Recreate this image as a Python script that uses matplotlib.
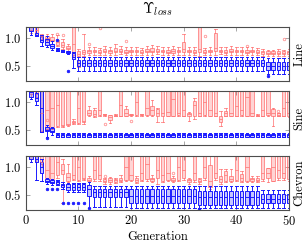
import numpy as np
import matplotlib
matplotlib.use('Agg')
import matplotlib.pyplot as plt

plt.rcParams['font.family'] = 'serif'
plt.rcParams['font.serif'] = ['cmr10']
plt.rcParams['mathtext.fontset'] = 'cm'
plt.rcParams['axes.formatter.use_mathtext'] = True

# generations on the x axis
gens = np.arange(1, 51)
panel_names = ['Line', 'Sine', 'Chevron']

# box stats per generation: [whisker low, q1, median, q3, whisker high]
# values above the axis top (1.3) are clipped boxes
line_red = [
    [1.10, 1.15, 1.20, 1.25, 1.30], [1.05, 1.10, 1.15, 1.20, 1.25], [0.98, 1.02, 1.04, 1.06, 1.08],
    [0.93, 0.97, 1.00, 1.03, 1.07], [0.90, 0.94, 0.97, 1.02, 1.07], [0.85, 0.88, 0.92, 0.97, 1.05],
    [0.80, 0.84, 0.87, 0.92, 0.98], [0.76, 0.80, 0.82, 0.86, 0.90], [0.66, 0.70, 0.90, 1.30, 1.30],
    [0.48, 0.68, 0.72, 0.76, 0.80], [0.68, 0.72, 0.74, 0.78, 1.08], [0.70, 0.73, 0.76, 0.79, 0.83],
    [0.70, 0.74, 0.76, 0.79, 0.84], [0.69, 0.73, 0.75, 0.78, 0.82], [0.70, 0.74, 0.76, 0.80, 0.85],
    [0.70, 0.73, 0.76, 0.79, 0.84], [0.70, 0.74, 0.77, 0.82, 0.90], [0.71, 0.75, 0.77, 0.80, 0.86],
    [0.70, 0.73, 0.75, 0.78, 0.83], [0.70, 0.74, 0.76, 0.79, 0.84], [0.70, 0.74, 0.76, 0.79, 0.84],
    [0.69, 0.73, 0.75, 0.78, 0.82], [0.70, 0.74, 0.77, 0.80, 0.86], [0.70, 0.74, 0.76, 0.82, 0.88],
    [0.71, 0.75, 0.77, 0.80, 0.85], [0.70, 0.74, 0.76, 0.79, 0.84], [0.70, 0.73, 0.75, 0.78, 0.83],
    [0.69, 0.73, 0.76, 0.80, 0.85], [0.70, 0.74, 0.76, 0.79, 0.84], [0.70, 0.75, 0.80, 0.92, 1.08],
    [0.70, 0.74, 0.76, 0.79, 0.84], [0.70, 0.73, 0.75, 0.78, 0.83], [0.68, 0.74, 0.80, 1.30, 1.30],
    [0.70, 0.73, 0.75, 0.78, 0.82], [0.70, 0.74, 0.76, 0.79, 0.84], [0.70, 0.76, 0.82, 1.10, 1.16],
    [0.71, 0.74, 0.76, 0.79, 0.84], [0.70, 0.73, 0.75, 0.78, 0.83], [0.70, 0.74, 0.76, 0.80, 0.86],
    [0.70, 0.74, 0.76, 0.79, 0.84], [0.70, 0.74, 0.76, 0.79, 0.84], [0.70, 0.73, 0.75, 0.78, 0.83],
    [0.70, 0.74, 0.76, 0.79, 0.84], [0.69, 0.73, 0.75, 0.78, 0.82], [0.68, 0.72, 0.74, 0.77, 0.80],
    [0.68, 0.71, 0.73, 0.76, 0.79], [0.68, 0.71, 0.73, 0.76, 0.79], [0.68, 0.71, 0.73, 0.76, 0.80],
    [0.68, 0.71, 0.73, 0.76, 0.79], [0.68, 0.72, 0.74, 0.77, 0.80]]
line_red_out = {6: [1.08], 7: [1.05], 12: [0.90], 14: [1.19], 19: [0.95],
                34: [1.04], 42: [0.86], 49: [0.98]}

line_blue = [
    [1.05, 1.12, 1.20, 1.25, 1.30], [1.03, 1.04, 1.06, 1.10, 1.20], [0.85, 0.92, 0.97, 1.03, 1.05],
    [0.83, 0.88, 0.93, 0.99, 1.03], [0.78, 0.82, 0.85, 0.90, 0.95], [0.76, 0.77, 0.79, 0.80, 0.82],
    [0.74, 0.75, 0.76, 0.78, 0.79], [0.72, 0.73, 0.74, 0.76, 0.77], [0.45, 0.62, 0.66, 0.73, 0.74],
    [0.40, 0.49, 0.55, 0.61, 0.66], [0.40, 0.49, 0.55, 0.61, 0.66], [0.40, 0.49, 0.55, 0.61, 0.66],
    [0.40, 0.49, 0.55, 0.61, 0.66], [0.40, 0.49, 0.55, 0.61, 0.66], [0.40, 0.49, 0.55, 0.61, 0.66],
    [0.40, 0.49, 0.55, 0.61, 0.66], [0.40, 0.49, 0.55, 0.61, 0.66], [0.40, 0.49, 0.55, 0.61, 0.66],
    [0.40, 0.49, 0.55, 0.61, 0.66], [0.40, 0.49, 0.55, 0.61, 0.66], [0.40, 0.49, 0.55, 0.61, 0.66],
    [0.40, 0.49, 0.55, 0.61, 0.66], [0.40, 0.49, 0.55, 0.61, 0.66], [0.40, 0.49, 0.55, 0.61, 0.66],
    [0.40, 0.49, 0.55, 0.61, 0.66], [0.40, 0.49, 0.55, 0.61, 0.66], [0.40, 0.49, 0.55, 0.61, 0.66],
    [0.40, 0.49, 0.55, 0.61, 0.66], [0.40, 0.49, 0.55, 0.61, 0.66], [0.40, 0.49, 0.55, 0.61, 0.66],
    [0.40, 0.49, 0.55, 0.61, 0.66], [0.40, 0.49, 0.55, 0.61, 0.66], [0.40, 0.49, 0.55, 0.61, 0.66],
    [0.40, 0.49, 0.55, 0.61, 0.66], [0.40, 0.49, 0.55, 0.61, 0.66], [0.40, 0.49, 0.55, 0.61, 0.66],
    [0.40, 0.49, 0.55, 0.61, 0.66], [0.40, 0.49, 0.55, 0.61, 0.66], [0.40, 0.49, 0.55, 0.61, 0.66],
    [0.40, 0.49, 0.55, 0.61, 0.66], [0.40, 0.49, 0.55, 0.61, 0.66], [0.40, 0.49, 0.55, 0.61, 0.66],
    [0.40, 0.49, 0.55, 0.61, 0.66], [0.40, 0.49, 0.55, 0.61, 0.66], [0.40, 0.49, 0.55, 0.61, 0.66],
    [0.34, 0.43, 0.50, 0.57, 0.64], [0.34, 0.43, 0.50, 0.57, 0.64], [0.34, 0.43, 0.50, 0.57, 0.64],
    [0.34, 0.43, 0.50, 0.57, 0.64], [0.34, 0.43, 0.50, 0.57, 0.64]]
line_blue_out = {6: [0.96], 8: [0.40], 46: [0.32]}

sine_red = [
    [1.10, 1.15, 1.20, 1.25, 1.30], [1.10, 1.15, 1.20, 1.25, 1.30], [0.45, 0.47, 0.80, 1.30, 1.30],
    [0.50, 0.52, 0.85, 1.30, 1.30], [0.52, 0.54, 0.90, 1.30, 1.30], [0.55, 0.57, 0.95, 1.30, 1.30],
    [0.55, 0.57, 0.58, 1.30, 1.30], [0.56, 0.58, 0.60, 1.30, 1.30], [0.60, 0.62, 0.64, 0.66, 0.70],
    [0.60, 0.62, 0.90, 1.30, 1.30], [0.61, 0.63, 0.66, 1.30, 1.30], [0.74, 0.76, 0.80, 0.86, 0.93],
    [0.73, 0.75, 0.78, 0.85, 0.90], [0.74, 0.76, 0.85, 1.30, 1.30], [0.75, 0.76, 0.77, 0.78, 0.79],
    [0.62, 0.67, 0.72, 0.76, 0.77], [0.74, 0.75, 0.76, 0.77, 0.78], [0.74, 0.75, 0.95, 1.30, 1.30],
    [0.74, 0.75, 0.80, 0.87, 0.93], [0.75, 0.76, 0.77, 0.78, 0.79], [0.74, 0.76, 1.00, 1.30, 1.30],
    [0.75, 0.76, 0.77, 0.78, 0.79], [0.74, 0.76, 0.90, 1.30, 1.30], [0.74, 0.77, 0.85, 0.93, 1.03],
    [0.63, 0.75, 0.80, 0.87, 0.90], [0.63, 0.74, 0.80, 1.30, 1.30], [0.74, 0.75, 0.82, 1.30, 1.30],
    [0.74, 0.75, 1.05, 1.30, 1.30], [0.74, 0.76, 0.80, 1.30, 1.30], [0.74, 0.75, 0.85, 1.30, 1.30],
    [0.66, 0.75, 0.78, 0.81, 0.82], [0.69, 0.75, 0.95, 1.02, 1.08], [0.74, 0.75, 0.80, 1.30, 1.30],
    [0.74, 0.76, 1.00, 1.30, 1.30], [0.74, 0.75, 0.85, 1.30, 1.30], [0.74, 0.75, 0.80, 1.30, 1.30],
    [0.57, 0.63, 0.70, 0.75, 0.84], [0.74, 0.75, 0.80, 0.84, 0.90], [0.74, 0.75, 0.80, 1.30, 1.30],
    [0.74, 0.75, 0.93, 1.30, 1.30], [0.74, 0.76, 0.85, 1.30, 1.30], [0.74, 0.75, 1.10, 1.30, 1.30],
    [0.74, 0.75, 0.80, 1.30, 1.30], [0.74, 0.75, 0.76, 0.77, 0.78], [0.74, 0.75, 0.85, 1.30, 1.30],
    [0.74, 0.76, 0.80, 1.30, 1.30], [0.57, 0.75, 0.80, 0.87, 0.90], [0.74, 0.75, 0.77, 0.80, 0.81],
    [0.74, 0.75, 0.90, 1.30, 1.30], [0.73, 0.75, 0.80, 1.30, 1.30]]
sine_red_out = {4: [0.67], 15: [0.61], 20: [0.66], 48: [0.83]}

sine_blue = [
    [1.05, 1.10, 1.18, 1.25, 1.30], [0.95, 1.01, 1.08, 1.16, 1.20], [0.45, 0.45, 0.90, 1.25, 1.30],
    [0.37, 0.47, 0.50, 0.55, 0.58], [0.40, 0.45, 0.48, 0.53, 0.55], [0.36, 0.37, 0.395, 0.42, 0.43],
    [0.36, 0.37, 0.395, 0.42, 0.43], [0.36, 0.37, 0.395, 0.42, 0.43], [0.36, 0.37, 0.395, 0.42, 0.43],
    [0.36, 0.37, 0.395, 0.42, 0.43], [0.36, 0.37, 0.395, 0.42, 0.43], [0.36, 0.37, 0.395, 0.42, 0.43],
    [0.36, 0.37, 0.395, 0.42, 0.43], [0.36, 0.37, 0.395, 0.42, 0.43], [0.36, 0.37, 0.395, 0.42, 0.43],
    [0.36, 0.37, 0.395, 0.42, 0.43], [0.36, 0.37, 0.395, 0.42, 0.43], [0.36, 0.37, 0.395, 0.42, 0.43],
    [0.36, 0.37, 0.395, 0.42, 0.43], [0.36, 0.37, 0.395, 0.42, 0.43], [0.36, 0.37, 0.395, 0.42, 0.43],
    [0.36, 0.37, 0.395, 0.42, 0.43], [0.36, 0.37, 0.395, 0.42, 0.43], [0.36, 0.37, 0.395, 0.42, 0.43],
    [0.36, 0.37, 0.395, 0.42, 0.43], [0.36, 0.37, 0.395, 0.42, 0.43], [0.36, 0.37, 0.395, 0.42, 0.43],
    [0.36, 0.37, 0.395, 0.42, 0.43], [0.36, 0.37, 0.395, 0.42, 0.43], [0.36, 0.37, 0.395, 0.42, 0.43],
    [0.36, 0.37, 0.395, 0.42, 0.43], [0.36, 0.37, 0.395, 0.42, 0.43], [0.36, 0.37, 0.395, 0.42, 0.43],
    [0.36, 0.37, 0.395, 0.42, 0.43], [0.36, 0.37, 0.395, 0.42, 0.43], [0.36, 0.37, 0.395, 0.42, 0.43],
    [0.36, 0.37, 0.395, 0.42, 0.43], [0.36, 0.37, 0.395, 0.42, 0.43], [0.36, 0.37, 0.395, 0.42, 0.43],
    [0.36, 0.37, 0.395, 0.42, 0.43], [0.36, 0.37, 0.395, 0.42, 0.43], [0.36, 0.37, 0.395, 0.42, 0.43],
    [0.36, 0.37, 0.395, 0.42, 0.43], [0.36, 0.37, 0.395, 0.42, 0.43], [0.36, 0.37, 0.395, 0.42, 0.43],
    [0.36, 0.37, 0.395, 0.42, 0.43], [0.36, 0.37, 0.395, 0.42, 0.43], [0.36, 0.37, 0.395, 0.42, 0.43],
    [0.36, 0.37, 0.395, 0.42, 0.43], [0.36, 0.37, 0.395, 0.42, 0.43]]
sine_blue_out = {4: [0.35]}

chevron_red = [
    [1.10, 1.15, 1.20, 1.25, 1.30], [1.10, 1.15, 1.20, 1.25, 1.30], [1.00, 1.05, 1.10, 1.20, 1.30],
    [0.78, 0.80, 0.95, 1.30, 1.30], [0.76, 0.78, 0.90, 1.30, 1.30], [0.80, 0.86, 1.10, 1.30, 1.30],
    [0.34, 0.87, 0.95, 1.05, 1.15], [0.72, 0.75, 0.82, 0.90, 1.05], [0.76, 0.78, 0.85, 1.30, 1.30],
    [0.75, 0.77, 1.00, 1.30, 1.30], [0.76, 0.78, 0.80, 1.30, 1.30], [0.72, 0.75, 0.77, 0.80, 0.83],
    [0.74, 0.78, 0.95, 1.30, 1.30], [0.74, 0.78, 0.85, 1.30, 1.30], [0.70, 0.72, 0.75, 0.78, 0.80],
    [0.70, 0.72, 0.76, 0.80, 0.82], [0.71, 0.73, 0.76, 0.78, 0.80], [0.72, 0.74, 0.77, 0.80, 0.86],
    [0.74, 0.77, 1.00, 1.30, 1.30], [0.74, 0.76, 0.85, 1.30, 1.30], [0.71, 0.73, 0.76, 0.81, 0.84],
    [0.74, 0.77, 0.90, 1.30, 1.30], [0.74, 0.78, 1.05, 1.30, 1.30], [0.73, 0.75, 0.78, 0.81, 0.85],
    [0.69, 0.81, 0.95, 1.30, 1.30], [0.72, 0.75, 0.85, 1.30, 1.30], [0.74, 0.77, 0.90, 1.30, 1.30],
    [0.72, 0.75, 0.77, 0.81, 0.84], [0.74, 0.77, 1.00, 1.30, 1.30], [0.76, 0.81, 0.95, 1.30, 1.30],
    [0.70, 0.72, 0.76, 0.78, 0.80], [0.73, 0.77, 0.90, 1.30, 1.30], [0.70, 0.72, 0.75, 0.78, 0.80],
    [0.77, 0.81, 1.00, 1.30, 1.30], [0.60, 0.63, 0.75, 1.04, 1.20], [0.77, 0.81, 0.90, 1.30, 1.30],
    [0.70, 0.72, 0.78, 0.84, 0.96], [0.73, 0.75, 0.85, 0.93, 0.96], [0.72, 0.75, 0.78, 0.84, 0.96],
    [0.74, 0.77, 0.95, 1.30, 1.30], [0.73, 0.75, 0.80, 0.87, 0.93], [0.73, 0.75, 1.00, 1.30, 1.30],
    [0.73, 0.75, 0.78, 0.81, 0.84], [0.72, 0.75, 0.77, 0.81, 0.84], [0.75, 0.78, 0.90, 1.30, 1.30],
    [0.72, 0.81, 0.90, 0.99, 0.99], [0.74, 0.75, 1.00, 1.30, 1.30], [0.77, 0.81, 0.95, 1.30, 1.30],
    [0.76, 0.81, 0.90, 1.30, 1.30], [0.74, 0.78, 1.00, 1.30, 1.30]]
chevron_red_out = {15: [0.84], 28: [0.90]}

chevron_blue = [
    [1.10, 1.15, 1.20, 1.25, 1.30], [0.76, 1.10, 1.15, 1.22, 1.30], [0.75, 0.89, 1.00, 1.10, 1.15],
    [0.70, 0.72, 0.75, 0.78, 0.80], [0.68, 0.71, 0.73, 0.76, 0.78], [0.67, 0.70, 0.72, 0.74, 0.76],
    [0.60, 0.64, 0.67, 0.70, 0.73], [0.55, 0.58, 0.63, 0.69, 0.71], [0.55, 0.58, 0.63, 0.69, 0.71],
    [0.55, 0.58, 0.63, 0.69, 0.71], [0.55, 0.58, 0.63, 0.69, 0.71], [0.26, 0.47, 0.60, 0.68, 0.72],
    [0.27, 0.46, 0.54, 0.61, 0.66], [0.27, 0.46, 0.54, 0.61, 0.66], [0.27, 0.46, 0.54, 0.61, 0.66],
    [0.27, 0.46, 0.54, 0.61, 0.66], [0.27, 0.46, 0.54, 0.61, 0.66], [0.27, 0.46, 0.54, 0.61, 0.66],
    [0.27, 0.46, 0.54, 0.61, 0.66], [0.26, 0.35, 0.48, 0.61, 0.66], [0.26, 0.35, 0.48, 0.61, 0.66],
    [0.26, 0.35, 0.48, 0.61, 0.66], [0.26, 0.35, 0.48, 0.61, 0.66], [0.26, 0.35, 0.48, 0.61, 0.66],
    [0.26, 0.35, 0.48, 0.61, 0.66], [0.26, 0.35, 0.48, 0.61, 0.66], [0.26, 0.35, 0.48, 0.61, 0.66],
    [0.26, 0.35, 0.48, 0.61, 0.66], [0.26, 0.35, 0.48, 0.61, 0.66], [0.26, 0.35, 0.48, 0.61, 0.66],
    [0.26, 0.35, 0.48, 0.61, 0.66], [0.26, 0.35, 0.48, 0.61, 0.66], [0.26, 0.32, 0.45, 0.56, 0.65],
    [0.26, 0.32, 0.45, 0.56, 0.65], [0.26, 0.32, 0.45, 0.56, 0.65], [0.26, 0.32, 0.45, 0.56, 0.65],
    [0.26, 0.32, 0.45, 0.56, 0.65], [0.26, 0.32, 0.45, 0.56, 0.65], [0.26, 0.32, 0.45, 0.56, 0.65],
    [0.26, 0.32, 0.45, 0.56, 0.65], [0.26, 0.32, 0.45, 0.56, 0.65], [0.26, 0.32, 0.45, 0.56, 0.65],
    [0.26, 0.32, 0.45, 0.56, 0.65], [0.26, 0.32, 0.45, 0.56, 0.65], [0.26, 0.34, 0.42, 0.52, 0.58],
    [0.26, 0.34, 0.42, 0.52, 0.58], [0.26, 0.34, 0.42, 0.52, 0.58], [0.26, 0.34, 0.42, 0.52, 0.58],
    [0.26, 0.34, 0.42, 0.52, 0.58], [0.26, 0.34, 0.42, 0.52, 0.58]]
chevron_blue_out = {4: [0.61], 5: [0.61], 6: [0.61], 7: [0.34], 8: [0.34], 9: [0.34],
                    10: [0.34], 11: [0.34], 12: [0.25], 33: [0.24]}

panels = [(line_red, line_red_out, line_blue, line_blue_out),
          (sine_red, sine_red_out, sine_blue, sine_blue_out),
          (chevron_red, chevron_red_out, chevron_blue, chevron_blue_out)]

RED_EDGE = (1.0, 0.45, 0.45, 0.75)
RED_FACE = (1.0, 0.0, 0.0, 0.17)
BLUE_EDGE = (0.1, 0.1, 1.0, 1.0)
BLUE_FACE = (0.25, 0.25, 1.0, 0.3)


def draw_boxes(ax, rows, outliers, edge, face, filled):
    stats = []
    for g, r in zip(gens, rows):
        stats.append(dict(whislo=r[0], q1=r[1], med=r[2], q3=r[3], whishi=r[4],
                          fliers=outliers.get(int(g), [])))
    lw = 0.7
    ax.bxp(stats, positions=gens, widths=0.65, capwidths=0.5, patch_artist=True,
           manage_ticks=False,
           boxprops=dict(facecolor=face, edgecolor=edge, linewidth=lw),
           medianprops=dict(color=edge, linewidth=lw),
           whiskerprops=dict(color=edge, linewidth=lw),
           capprops=dict(color=edge, linewidth=lw),
           flierprops=dict(marker='o', markersize=1.8,
                           markerfacecolor=edge if filled else 'none',
                           markeredgecolor=edge, markeredgewidth=0.6))


fig = plt.figure(figsize=(3.08, 2.48), dpi=100)
bottoms = [0.673, 0.415, 0.153]
axes = []
for i, (rr, ro, br, bo) in enumerate(panels):
    ax = fig.add_axes([0.084, bottoms[i], 0.854, 0.218])
    draw_boxes(ax, rr, ro, RED_EDGE, RED_FACE, False)
    draw_boxes(ax, br, bo, BLUE_EDGE, BLUE_FACE, True)
    ax.set_xlim(0, 50)
    ax.set_ylim(0.22, 1.2)
    ax.set_xticks([0, 10, 20, 30, 40, 50])
    ax.set_yticks([0.5, 1.0])
    ax.tick_params(direction='in', top=True, right=True, length=3, width=0.6,
                   color='0.6', labelsize=9, pad=3)
    for s in ax.spines.values():
        s.set_color('0.3')
        s.set_linewidth(0.8)
    ax.yaxis.set_label_position('right')
    ax.set_ylabel(panel_names[i], rotation=90, fontsize=9, labelpad=3)
    if i < 2:
        ax.tick_params(labelbottom=False)
    axes.append(ax)

axes[-1].set_xlabel('Generation', fontsize=9, labelpad=2)
fig.text(0.511, 0.965, r'$\Upsilon_{loss}$', ha='center', va='center', fontsize=10.5)

fig.savefig('out.png', dpi=100)
